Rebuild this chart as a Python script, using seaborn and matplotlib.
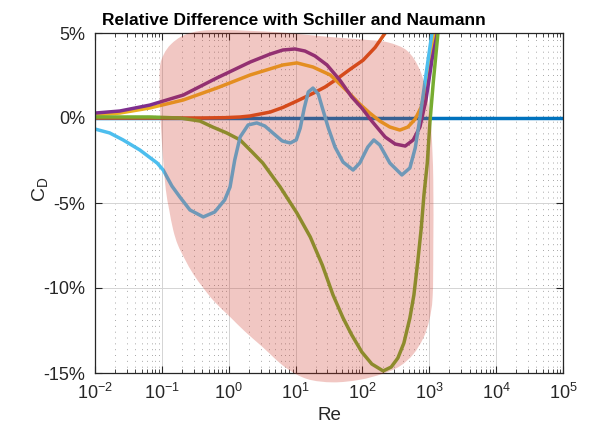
import numpy as np
import pandas as pd
import matplotlib
matplotlib.use("Agg")
import matplotlib.pyplot as plt
import seaborn as sns
from matplotlib.patches import PathPatch
from matplotlib.path import Path
from matplotlib.ticker import LogLocator, NullFormatter

# ---------------- data (x as log10(Re), y in %) ----------------
flat_logre = [-2.0, 5.0]
flat_pct = [0.0, 0.0]

red_logre = [-2.0, -1.18, -0.43, -0.06, 0.17, 0.32, 0.62, 0.81, 1.02, 1.26, 1.44, 1.62,
             1.81, 2.01, 2.19, 2.34, 2.44]
red_pct = [0.0, 0.0, 0.0, 0.02, 0.06, 0.12, 0.35, 0.62, 1.0, 1.45, 1.82, 2.3,
           2.85, 3.4, 4.15, 5.0, 5.65]

orange_logre = [-2.0, -1.63, -1.18, -0.68, -0.18, 0.32, 0.81, 1.02, 1.26, 1.52, 1.77,
                1.96, 2.11, 2.26, 2.41, 2.56, 2.68, 2.79, 2.88, 2.97, 3.06, 3.10]
orange_pct = [0.18, 0.29, 0.59, 1.06, 1.76, 2.53, 3.12, 3.24, 3.0, 2.53, 1.59,
              0.82, 0.29, -0.18, -0.53, -0.71, -0.53, -0.06, 0.65, 2.24, 4.59, 5.76]

purple_logre = [-2.0, -1.63, -1.18, -0.68, -0.18, 0.32, 0.62, 0.81, 0.99, 1.14, 1.29,
                1.47, 1.66, 1.84, 1.99, 2.14, 2.34, 2.49, 2.64, 2.76, 2.86, 2.95,
                3.04, 3.12, 3.16]
purple_pct = [0.29, 0.41, 0.76, 1.35, 2.35, 3.29, 3.76, 4.0, 4.06, 3.94, 3.65,
              3.12, 2.24, 1.24, 0.59, -0.18, -1.12, -1.53, -1.65, -1.29, -0.53, 1.06,
              3.41, 5.0, 6.06]

green_logre = [-2.0, -1.18, -0.73, -0.43, -0.24, -0.03, 0.17, 0.35, 0.51, 0.77, 1.02,
               1.22, 1.40, 1.56, 1.71, 1.84, 1.99, 2.14, 2.31, 2.43, 2.53, 2.62,
               2.71, 2.77, 2.83, 2.88, 2.92, 2.97, 3.01, 3.06, 3.12, 3.16]
green_pct = [0.06, 0.06, 0.0, -0.18, -0.53, -0.88, -1.29, -2.0, -2.65, -4.06, -5.59,
             -7.0, -8.65, -10.41, -11.76, -12.76, -13.76, -14.47, -14.88, -14.65, -14.12, -13.24,
             -11.76, -10.41, -8.35, -6.47, -4.53, -2.65, -0.24, 2.12, 4.59, 6.35]

cyan_logre = [-2.0, -1.78, -1.58, -1.33, -1.07, -0.98, -0.85, -0.73, -0.58, -0.38, -0.21,
              -0.06, 0.02, 0.09, 0.17, 0.29, 0.42, 0.54, 0.66, 0.80, 0.92, 1.01,
              1.07, 1.13, 1.19, 1.26, 1.34, 1.41, 1.49, 1.59, 1.71, 1.86, 1.96,
              2.08, 2.17, 2.26, 2.41, 2.59, 2.71, 2.79, 2.86, 2.95, 3.04, 3.10]
cyan_pct = [-0.65, -0.88, -1.29, -1.88, -2.65, -3.06, -4.0, -4.65, -5.41, -5.82, -5.53,
            -4.82, -4.06, -2.47, -1.12, -0.41, -0.29, -0.47, -0.88, -1.35, -1.47, -1.29,
            -0.59, 0.59, 1.53, 1.76, 1.41, 0.47, -0.59, -1.71, -2.59, -3.06, -2.65,
            -1.71, -1.29, -1.59, -2.65, -3.35, -2.94, -1.76, 0.0, 2.53, 5.0, 6.94]

# highlighted region (outline, log10(Re), %)
blob_logre = [-1.03, -1.03, -0.97, -0.86, -0.68, -0.43, -0.10, 0.30, 0.75, 1.20, 1.65,
              2.05, 2.38, 2.67, 2.86, 2.97, 3.03, 3.06, 3.06, 3.05, 3.00, 2.91,
              2.76, 2.56, 2.30, 1.96, 1.56, 1.17, 0.84, 0.50, 0.24, 0.02, -0.21,
              -0.38, -0.53, -0.65, -0.76, -0.83, -0.89, -0.94, -0.98, -1.01]
blob_pct = [1.06, 2.94, 3.75, 4.35, 4.85, 5.12, 5.18, 5.13, 5.04, 4.88, 4.72,
            4.6, 4.45, 3.95, 2.82, 1.24, -0.71, -3.65, -7.76, -10.53, -11.9, -12.95,
            -13.9, -14.6, -15.05, -15.4, -15.55, -15.35, -14.65, -13.45, -12.55, -11.7, -10.82,
            -10.0, -9.18, -8.35, -7.47, -6.59, -5.41, -4.24, -2.47, -0.71]

series_names = ["flat", "red", "orange", "purple", "green", "cyan"]
series_colors = ["#0072BD", "#D95319", "#EDB120", "#7E2F8E", "#77AC30", "#4DBEEE"]
series_data = [(flat_logre, flat_pct), (red_logre, red_pct), (orange_logre, orange_pct),
               (purple_logre, purple_pct), (green_logre, green_pct), (cyan_logre, cyan_pct)]

ytick_vals = [-15, -10, -5, 0, 5]
ytick_labels = ["-15%", "-10%", "-5%", "0%", "5%"]
xtick_vals = [1e-2, 1e-1, 1e0, 1e1, 1e2, 1e3, 1e4, 1e5]
xtick_labels = [r"$10^{-2}$", r"$10^{-1}$", r"$10^{0}$", r"$10^{1}$",
                r"$10^{2}$", r"$10^{3}$", r"$10^{4}$", r"$10^{5}$"]

# ---------------- style ----------------
sns.set_style("ticks")
plt.rcParams["font.family"] = ["Liberation Sans", "DejaVu Sans"]
plt.rcParams["mathtext.fontset"] = "custom"
plt.rcParams["mathtext.rm"] = "Liberation Sans"
plt.rcParams["mathtext.it"] = "Liberation Sans:italic"
plt.rcParams["mathtext.bf"] = "Liberation Sans:bold"
plt.rcParams["axes.unicode_minus"] = False

frames = []
for name, (lx, py) in zip(series_names, series_data):
    frames.append(pd.DataFrame({"Re": 10 ** np.asarray(lx, dtype=float),
                                "pct": py, "series": name}))
df = pd.concat(frames, ignore_index=True)

fig = plt.figure(figsize=(5.9, 4.32), dpi=100)
ax = fig.add_axes([95 / 590, 1 - 373 / 432, 468 / 590, 340 / 432])

sns.lineplot(data=df, x="Re", y="pct", hue="series", hue_order=series_names,
             palette=dict(zip(series_names, series_colors)), sort=False,
             estimator=None, linewidth=2.5, legend=False, ax=ax)
for ln in ax.get_lines():
    ln.set_solid_joinstyle("round")
    ln.set_solid_capstyle("round")

ax.set_xscale("log")
ax.set_xlim(1e-2, 1e5)
ax.set_ylim(-15, 5)

# smooth closed outline (Catmull-Rom -> cubic Bezier) in log-x space
P = np.column_stack([blob_logre, blob_pct]).astype(float)
n = len(P)
verts = [P[0]]
codes = [Path.MOVETO]
for i in range(n):
    p0, p1, p2, p3 = P[i - 1], P[i], P[(i + 1) % n], P[(i + 2) % n]
    c1 = p1 + (p2 - p0) / 6.0
    c2 = p2 - (p3 - p1) / 6.0
    verts += [c1, c2, p2]
    codes += [Path.CURVE4] * 3
verts = np.array(verts)
verts[:, 0] = 10 ** verts[:, 0]
blob = PathPatch(Path(verts, codes), facecolor=(0.80, 0.20, 0.14), alpha=0.27,
                 edgecolor="none", clip_on=False, zorder=5)
ax.add_patch(blob)

ax.set_xticks(xtick_vals)
ax.set_xticklabels(xtick_labels)
ax.xaxis.set_minor_locator(LogLocator(base=10, subs=np.arange(2, 10), numticks=20))
ax.xaxis.set_minor_formatter(NullFormatter())
ax.set_yticks(ytick_vals)
ax.set_yticklabels(ytick_labels)

ax.grid(which="major", axis="both", color="#d4d4d4", linewidth=0.7, linestyle="-")
ax.grid(which="minor", axis="x", color="#a8a8a8", linewidth=0.7, linestyle=(0, (1, 5)))
ax.set_axisbelow(True)

ax.tick_params(which="both", direction="in", top=True, right=True,
               colors="#262626", labelsize=13)
ax.tick_params(axis="y", which="major", pad=7)
ax.tick_params(axis="x", which="major", pad=7)
ax.tick_params(which="major", length=5, width=0.8)
ax.tick_params(which="minor", length=3, width=0.6)
for sp in ax.spines.values():
    sp.set_color("#262626")
    sp.set_linewidth(0.9)
    sp.set_visible(True)

ax.set_xlabel("Re", fontsize=13.5, color="#262626", labelpad=3)
ax.set_ylabel(r"C$_\mathregular{D}$", fontsize=14, color="#262626", labelpad=6)
ax.yaxis.set_label_coords(-0.097, 0.54)
ax.set_title("Relative Difference with Schiller and Naumann", fontsize=12.5,
             fontweight="bold", color="#000000", pad=6, x=0.425)

fig.savefig("out.png", dpi=100)
